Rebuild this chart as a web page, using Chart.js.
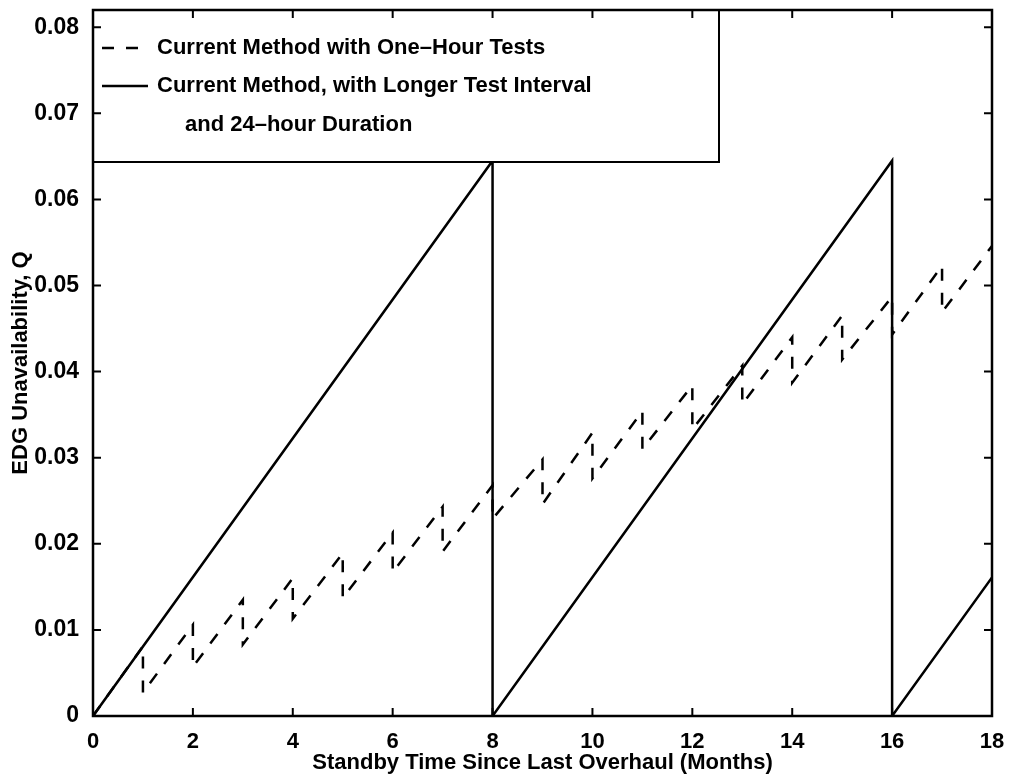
<!DOCTYPE html>
<html>
<head>
<meta charset="utf-8">
<script src="https://cdn.jsdelivr.net/npm/chart.js@4/dist/chart.umd.min.js"></script>
<style>
  html, body { margin: 0; padding: 0; background: #fff; }
  #wrap { width: 1010px; height: 782px; }
</style>
</head>
<body>
<div id="wrap"><canvas id="chart" width="1010" height="782"></canvas></div>
<script>
// ---- data ----
const xTicks = [0, 2, 4, 6, 8, 10, 12, 14, 16, 18];
const yTicks = [0, 0.01, 0.02, 0.03, 0.04, 0.05, 0.06, 0.07, 0.08];

// longer test interval, 24-hour duration (overhaul every 8 months)
const solidX = [0, 8, 8, 16, 16, 18];
const solidY = [0, 0.0645, 0, 0.0645, 0, 0.0161];

// one-hour monthly tests
const dashedX = [0, 1, 1, 2, 2, 3, 3, 4, 4, 5, 5, 6, 6, 7, 7, 8, 8, 9, 9,
  10, 10, 11, 11, 12, 12, 13, 13, 14, 14, 15, 15, 16, 16, 17, 17, 18];
const dashedY = [0, 0.0081, 0.0027, 0.0106, 0.0057, 0.0135, 0.0083, 0.0160, 0.0113,
  0.0189, 0.0137, 0.0213, 0.0167, 0.0243, 0.0191, 0.0268, 0.0229, 0.0298, 0.0246,
  0.0329, 0.0276, 0.0354, 0.0310, 0.0384, 0.0333, 0.0407, 0.0362, 0.0440, 0.0387,
  0.0465, 0.0414, 0.0487, 0.0443, 0.0523, 0.0469, 0.0546];

const legendLabels = [
  'Current Method with One\u2013Hour Tests',
  'Current Method, with Longer Test Interval',
  'and 24\u2013hour Duration'
];

const FONT = "'Liberation Sans', Arial, Helvetica, sans-serif";
const toPts = (xs, ys) => xs.map((x, i) => ({ x: x, y: ys[i] }));

// frame, inward ticks and the boxed legend (matlab style)
const framePlugin = {
  id: 'frame',
  afterDatasetsDraw(chart) {
    const { ctx, chartArea: a, scales } = chart;
    ctx.save();

    // legend box
    const lx = a.left, ly = a.top, lw = 719 - a.left, lh = 162 - a.top;
    ctx.fillStyle = '#fff';
    ctx.fillRect(lx, ly, lw, lh);
    ctx.strokeStyle = '#000';
    ctx.lineWidth = 2;
    ctx.strokeRect(lx, ly, lw, lh);

    ctx.lineWidth = 2.5;
    ctx.setLineDash([12, 12]);
    ctx.beginPath(); ctx.moveTo(102, 48); ctx.lineTo(142, 48); ctx.stroke();
    ctx.setLineDash([]);
    ctx.beginPath(); ctx.moveTo(102, 86); ctx.lineTo(148, 86); ctx.stroke();

    ctx.fillStyle = '#000';
    ctx.font = 'bold 22px ' + FONT;
    ctx.textBaseline = 'middle';
    ctx.textAlign = 'left';
    ctx.fillText(legendLabels[0], 157, 48);
    ctx.fillText(legendLabels[1], 157, 86);
    ctx.fillText(legendLabels[2], 185, 125);

    // frame
    ctx.lineWidth = 2.5;
    ctx.strokeRect(a.left, a.top, a.right - a.left, a.bottom - a.top);

    // ticks pointing inward on all four sides
    const tl = 8;
    ctx.lineWidth = 2;
    ctx.beginPath();
    xTicks.forEach(v => {
      const px = scales.x.getPixelForValue(v);
      ctx.moveTo(px, a.bottom); ctx.lineTo(px, a.bottom - tl);
      ctx.moveTo(px, a.top); ctx.lineTo(px, a.top + tl);
    });
    yTicks.forEach(v => {
      const py = scales.y.getPixelForValue(v);
      ctx.moveTo(a.left, py); ctx.lineTo(a.left + tl, py);
      ctx.moveTo(a.right, py); ctx.lineTo(a.right - tl, py);
    });
    ctx.stroke();
    ctx.restore();
  }
};

const ctx = document.getElementById('chart').getContext('2d');
new Chart(ctx, {
  type: 'line',
  data: {
    datasets: [
      {
        label: 'Current Method, with Longer Test Interval and 24-hour Duration',
        data: toPts(solidX, solidY),
        borderColor: '#000',
        borderWidth: 2.5,
        pointRadius: 0,
        tension: 0,
        fill: false
      },
      {
        label: 'Current Method with One-Hour Tests',
        data: toPts(dashedX, dashedY),
        borderColor: '#000',
        borderWidth: 2.5,
        borderDash: [12, 12],
        pointRadius: 0,
        tension: 0,
        fill: false
      }
    ]
  },
  options: {
    responsive: false,
    animation: false,
    devicePixelRatio: 1,
    layout: { padding: { top: 10, right: 18, left: 0, bottom: 0 } },
    plugins: { legend: { display: false }, tooltip: { enabled: false } },
    scales: {
      x: {
        type: 'linear',
        min: 0, max: 18,
        grid: { display: false },
        border: { display: false },
        afterBuildTicks: s => { s.ticks = xTicks.map(v => ({ value: v })); },
        afterFit: s => { s.height = 66; s.paddingLeft = 0; s.paddingRight = 0; },
        ticks: {
          color: '#000',
          padding: 5,
          maxRotation: 0,
          font: { family: FONT, size: 22, weight: 'bold' }
        },
        title: {
          display: true,
          text: 'Standby Time Since Last Overhaul (Months)',
          color: '#000',
          padding: { top: 0, bottom: 6 },
          font: { family: FONT, size: 22, weight: 'bold' }
        }
      },
      y: {
        type: 'linear',
        min: 0, max: 0.082,
        grid: { display: false },
        border: { display: false },
        afterBuildTicks: s => { s.ticks = yTicks.map(v => ({ value: v })); },
        afterFit: s => { s.width = 93; s.paddingTop = 0; s.paddingBottom = 0; },
        ticks: {
          color: '#000',
          padding: 6,
          font: { family: FONT, size: 23, weight: 'bold' },
          callback: v => (v === 0 ? '0' : v.toFixed(2))
        },
        title: {
          display: true,
          text: 'EDG Unavailability, Q',
          color: '#000',
          padding: { top: 8, bottom: 0 },
          font: { family: FONT, size: 22, weight: 'bold' }
        }
      }
    }
  },
  plugins: [framePlugin]
});
</script>
</body>
</html>
